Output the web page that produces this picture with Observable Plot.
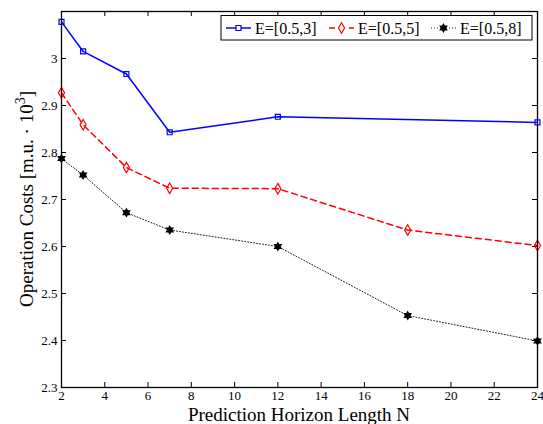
<!DOCTYPE html>
<html><head><meta charset="utf-8">
<script src="https://cdn.jsdelivr.net/npm/d3@7"></script>
<script src="https://cdn.jsdelivr.net/npm/@observablehq/plot@0.6"></script>
<style>body{margin:0;background:#fff} svg text{font-family:"Liberation Serif","Times New Roman","DejaVu Serif",serif}</style>
</head><body><div id="chart"></div>
<script>
// ---- data ----
const seriesNames = ["E=[0.5,3]", "E=[0.5,5]", "E=[0.5,8]"];
const horizonE3 = [2, 3, 5, 7, 12, 24];
const costE3    = [3.078, 3.015, 2.967, 2.843, 2.876, 2.864];
const horizonE5 = [2, 3, 5, 7, 12, 18, 24];
const costE5    = [2.927, 2.859, 2.768, 2.724, 2.723, 2.635, 2.602];
const horizonE8 = [2, 3, 5, 7, 12, 18, 24];
const costE8    = [2.787, 2.752, 2.672, 2.635, 2.600, 2.453, 2.399];
const xTicks = [2, 4, 6, 8, 10, 12, 14, 16, 18, 20, 22, 24];
const yTicks = [2.3, 2.4, 2.5, 2.6, 2.7, 2.8, 2.9, 3.0];

const W = 543, H = 424, mL = 61, mR = 6, mT = 11, mB = 37;
const innerW = W - mL - mR, innerH = H - mT - mB;
const FONT = '"Liberation Serif","Times New Roman","DejaVu Serif",serif';

const hexagram = {draw(ctx, size) {
  const R = Math.sqrt(size / Math.PI) * 1.35, r = R / Math.sqrt(3);
  for (let i = 0; i < 12; i++) {
    const a = Math.PI / 6 * i - Math.PI / 2, rr = i % 2 === 0 ? R : r;
    const x = rr * Math.cos(a), y = rr * Math.sin(a);
    i ? ctx.lineTo(x, y) : ctx.moveTo(x, y);
  }
  ctx.closePath();
}};

const series = [
  {name: seriesNames[0], xs: horizonE3, ys: costE3, color: "#0000ff", dash: null, width: 1.5, symbol: d3.symbolSquare, r: 2.8, fill: "none"},
  {name: seriesNames[1], xs: horizonE5, ys: costE5, color: "#ff0000", dash: "6,4", width: 1.5, symbol: d3.symbolDiamond, r: 3.2, fill: "none"},
  {name: seriesNames[2], xs: horizonE8, ys: costE8, color: "#000000", dash: "1,2", width: 0.9, symbol: hexagram, r: 2.8, fill: "#000000"}
];
const rows = s => s.xs.map((x, i) => ({x, y: s.ys[i]}));

const marks = [];
for (const s of series) {
  marks.push(Plot.line(rows(s), {x: "x", y: "y", stroke: s.color, strokeWidth: s.width, strokeDasharray: s.dash}));
  marks.push(Plot.dot(rows(s), {x: "x", y: "y", stroke: s.color, strokeWidth: 1.2, fill: s.fill, symbol: s.symbol, r: s.r}));
}

const plot = Plot.plot({
  width: W, height: H,
  marginLeft: mL, marginRight: mR, marginTop: mT, marginBottom: mB,
  style: {fontFamily: FONT, fontSize: "13px", color: "#000", background: "#fff"},
  x: {domain: [2, 24]},
  y: {domain: [2.3, 3.1]},
  marks: [
    Plot.axisX(xTicks, {tickSize: 0, tickPadding: 3, label: null, fontSize: 13}),
    Plot.axisY(yTicks, {tickSize: 0, tickPadding: 4, label: null, fontSize: 13, tickFormat: d => String(+d.toFixed(1))}),
    Plot.tickX(xTicks, {x: d => d, insetTop: innerH - 5, stroke: "#000"}),
    Plot.tickX(xTicks, {x: d => d, insetBottom: innerH - 5, stroke: "#000"}),
    Plot.tickY(yTicks, {y: d => d, insetRight: innerW - 5, stroke: "#000"}),
    Plot.tickY(yTicks, {y: d => d, insetLeft: innerW - 5, stroke: "#000"}),
    ...marks,
    Plot.frame({stroke: "#000", strokeWidth: 1.3})
  ]
});

const svg = d3.select(plot);
// axis titles
svg.append("text").attr("x", mL + innerW / 2).attr("y", 421).attr("text-anchor", "middle")
  .attr("font-size", 19).attr("fill", "#000")
  .text("Prediction Horizon Length N");
const yl = svg.append("text").attr("transform", `translate(33,${mT + innerH / 2}) rotate(-90)`)
  .attr("text-anchor", "middle").attr("font-size", 19).attr("fill", "#000");
yl.append("tspan").text("Operation Costs [m.u. \u00b7 10");
yl.append("tspan").attr("dy", -8).attr("font-size", 14).text("3");
yl.append("tspan").attr("dy", 8).text("]");

// legend
const lg = svg.append("g");
lg.append("rect").attr("x", 221).attr("y", 15.5).attr("width", 311).attr("height", 24.5)
  .attr("fill", "#fff").attr("stroke", "#000").attr("stroke-width", 1);
const lx = [226, 329, 431];
series.forEach((s, i) => {
  const x0 = lx[i], yy = 28;
  lg.append("line").attr("x1", x0).attr("x2", x0 + 25).attr("y1", yy).attr("y2", yy)
    .attr("stroke", s.color).attr("stroke-width", s.width).attr("stroke-dasharray", s.dash);
  lg.append("path").attr("transform", `translate(${x0 + 12.5},${yy})`)
    .attr("d", d3.symbol(s.symbol, Math.PI * s.r * s.r)())
    .attr("fill", s.fill === "none" ? "#fff" : s.fill).attr("stroke", s.color).attr("stroke-width", 1.2);
  lg.append("text").attr("x", x0 + 29).attr("y", yy + 5.5).attr("text-anchor", "start")
    .attr("font-size", 16).attr("fill", "#000").text(s.name);
});

document.getElementById("chart").appendChild(plot);
</script>
</body></html>
